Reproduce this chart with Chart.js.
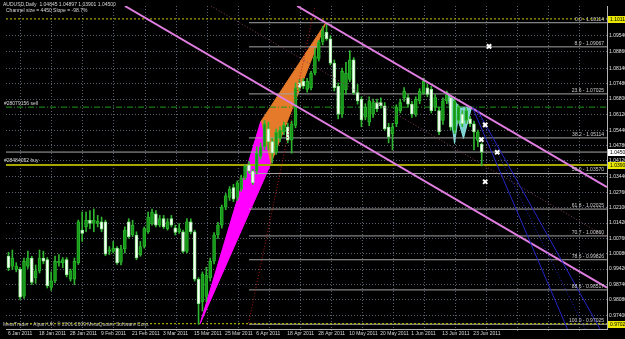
<!DOCTYPE html>
<html>
<head>
<meta charset="utf-8">
<script src="https://cdn.jsdelivr.net/npm/chart.js@4.4.1/dist/chart.umd.min.js"></script>
<style>
  html, body { margin: 0; padding: 0; background: #000; }
</style>
</head>
<body>
<canvas id="chart" width="625" height="339"></canvas>
<script>
// AUDUSD daily candles, bar 0 = 6 Jan 2011
const opens = [
  0.9998,0.9955,0.9941,0.9941,0.9825,0.9955,0.9990,0.9905,0.9934,0.9990,
  0.9983,0.9863,0.9891,0.9969,0.9969,0.9983,0.9898,0.9898,0.9969,1.0111,
  1.0125,1.0154,1.0140,1.0140,1.0147,1.0147,1.0019,1.0019,1.0033,0.9972,
  1.0030,1.0147,1.0090,1.0090,1.0005,1.0040,1.0104,1.0140,1.0182,1.0133,
  1.0161,1.0118,1.0161,1.0121,1.0104,1.0104,1.0019,1.0147,1.0104,0.9898,
  0.9800,0.9823,0.9905,0.9976,1.0090,1.0133,1.0211,1.0253,1.0296,1.0253,
  1.0289,1.0338,1.0395,1.0367,1.0367,1.0431,1.0473,1.0551,1.0495,1.0450,
  1.0509,1.0537,1.0559,1.0502,1.0566,1.0750,1.0757,1.0722,1.0729,1.0793,
  1.0857,1.0928,1.0970,1.0942,1.0836,1.0736,1.0615,1.0720,1.0765,1.0850,
  1.0708,1.0680,1.0601,1.0580,1.0615,1.0665,1.0665,1.0651,1.0558,1.0530,
  1.0573,1.0630,1.0686,1.0686,1.0658,1.0615,1.0672,1.0708,1.0729,1.0722,
  1.0644,1.0630,1.0587,1.0672,1.0686,1.0544,1.0587,1.0615,1.0587,1.0594,
  1.0573,1.0501,1.04845
];
const highs = [
  1.0015,1.0025,0.9970,0.9950,0.9990,1.0020,0.9998,0.9960,1.0025,1.0020,
  0.9992,0.9930,0.9998,1.0005,0.9992,0.9992,0.9942,0.9990,1.0155,1.0190,
  1.0190,1.0196,1.0203,1.0175,1.0168,1.0155,1.0040,1.0062,1.0040,1.0045,
  1.0125,1.0161,1.0154,1.0104,1.0062,1.0125,1.0189,1.0203,1.0196,1.0175,
  1.0175,1.0161,1.0175,1.0133,1.0140,1.0111,1.0161,1.0160,1.0111,0.9905,
  0.9930,0.9950,0.9990,1.0100,1.0145,1.0220,1.0270,1.0300,1.0310,1.0325,
  1.0350,1.0395,1.0410,1.0375,1.0473,1.0490,1.0587,1.0580,1.0510,1.0550,
  1.0560,1.0580,1.0575,1.0585,1.0750,1.0765,1.0770,1.0770,1.0800,1.0899,
  1.0935,1.0995,1.10114,1.0956,1.0850,1.0750,1.0815,1.0840,1.0890,1.0860,
  1.0743,1.0690,1.0660,1.0690,1.0680,1.0680,1.0685,1.0665,1.0575,1.0575,
  1.0655,1.0680,1.0730,1.0700,1.0670,1.0690,1.0725,1.0771,1.0745,1.0735,
  1.0700,1.0645,1.0685,1.0715,1.0695,1.0685,1.0655,1.0630,1.0640,1.0605,
  1.0585,1.0545,1.04897
];
const lows = [
  0.9935,0.9940,0.9930,0.9810,0.9815,0.9945,0.9875,0.9880,0.9925,0.9965,
  0.9860,0.9850,0.9882,0.9955,0.9948,0.9908,0.9890,0.9875,0.9962,1.0062,
  1.0104,1.0118,1.0104,1.0125,1.0104,1.0000,1.0005,1.0012,0.9962,0.9960,
  1.0012,1.0076,1.0083,0.9983,0.9998,1.0033,1.0097,1.0133,1.0125,1.0125,
  1.0118,1.0111,1.0125,1.0090,1.0097,1.0012,1.0012,1.0095,0.9890,0.97025,
  0.9760,0.9800,0.9890,0.9965,1.0075,1.0120,1.0200,1.0240,1.0235,1.0240,
  1.0280,1.0330,1.0360,1.0310,1.0355,1.0420,1.0460,1.0459,1.0402,1.0440,
  1.0495,1.0525,1.0490,1.0445,1.0555,1.0715,1.0725,1.0710,1.0720,1.0785,
  1.0845,1.0915,1.0935,1.0828,1.0715,1.0594,1.0600,1.0700,1.0755,1.0700,
  1.0658,1.0560,1.0590,1.0565,1.0600,1.0625,1.0640,1.0544,1.0490,1.0459,
  1.0560,1.0620,1.0670,1.0645,1.0600,1.0605,1.0660,1.0700,1.0690,1.0620,
  1.0630,1.0525,1.0570,1.0660,1.0545,1.0530,1.0575,1.0560,1.0575,1.0560,
  1.0459,1.0473,1.03901
];
const closes = [
  0.9948,0.9990,0.9955,0.9820,0.9976,0.9990,0.9884,0.9934,0.9990,0.9976,
  0.9870,0.9891,0.9976,0.9976,0.9983,0.9917,0.9934,0.9976,1.0147,1.0097,
  1.0154,1.0140,1.0154,1.0150,1.0115,1.0007,1.0026,1.0033,0.9969,1.0030,
  1.0111,1.0083,1.0133,0.9990,1.0040,1.0118,1.0168,1.0189,1.0133,1.0161,
  1.0125,1.0147,1.0133,1.0101,1.0118,1.0019,1.0147,1.0104,0.9898,0.9792,
  0.9919,0.9915,0.9976,1.0090,1.0133,1.0211,1.0260,1.0289,1.0246,1.0317,
  1.0338,1.0388,1.0367,1.0317,1.0445,1.0473,1.0573,1.0495,1.0445,1.0537,
  1.0544,1.0566,1.0502,1.0573,1.0729,1.0729,1.0736,1.0757,1.0793,1.0864,
  1.0928,1.0977,1.0942,1.0836,1.0729,1.0615,1.0800,1.0793,1.0850,1.0708,
  1.0672,1.0590,1.0644,1.0672,1.0665,1.0637,1.0651,1.0551,1.0516,1.0558,
  1.0644,1.0665,1.0715,1.0658,1.0615,1.0679,1.0715,1.0757,1.0700,1.0630,
  1.0686,1.0537,1.0672,1.0700,1.0558,1.0672,1.0644,1.0573,1.0630,1.0573,
  1.0537,1.0537,1.04500
];

// time axis: a label every 8 bars, grid lines sit a little right of each label
const dateLabels = ["6 Jan 2011","18 Jan 2011","28 Jan 2011","9 Feb 2011","21 Feb 2011","3 Mar 2011",
  "15 Mar 2011","25 Mar 2011","6 Apr 2011","18 Apr 2011","28 Apr 2011","10 May 2011","20 May 2011",
  "1 Jun 2011","13 Jun 2011","23 Jun 2011"];
const gridBars = [3.2,11.2,19.2,27.2,35.2,43.2,51.2,59.2,67.2,75.2,83.2,91.2,99.2,107.2,115.2,123.2,131.2,139.2,147.2];
const priceTicks = [1.09540,1.08860,1.08140,1.07480,1.06800,1.06120,1.05440,1.04780,1.04120,1.03440,
  1.02760,1.02100,1.01420,1.00760,1.00080,0.99420,0.98740,0.98080,0.97400];
const xMin = -0.64, xMax = 154.3;
const yMin = 0.9682, yMax = 1.1084;

// fibonacci retracement
const fibLevels = ["0.0","8.0","23.6","38.2","50.0","61.8","70.7","78.6","88.6","100.0"];
const fibPrices = [1.10114,1.09067,1.07025,1.05114,1.03570,1.02025,1.00860,0.99826,0.98517,0.97025];
const fibStartBar = 62;

// trade / price lines
const sellPrice = 1.0645, bidPrice = 1.0450, buyPrice = 1.0394;
const alertHigh = 1.1028, alertLow = 0.9705;

// channel (bar, price) pairs
const chanUpperX = [74.4, 154.3], chanUpperY = [1.1084, 1.0298];
const chanLowerX = [30.0, 154.3], chanLowerY = [1.1084, 0.9861];
const chanMidX = [52.2, 154.3], chanMidY = [1.1084, 1.0080];
const redDotX = [61.9, 79.0], redDotY = [0.9708, 1.1084];
const blue1X = [119.6, 144.1], blue1Y = [1.0645, 0.9682];
const blue2X = [120.9, 152.5], blue2Y = [1.0632, 0.9682];
const blue3X = [120.4, 148.7], blue3Y = [1.0641, 0.9682];

// triangles
const magentaX = [49.4, 65.0, 67.5], magentaY = [0.9705, 1.0581, 1.0394];
const orangeX = [65.0, 81.8, 67.5], orangeY = [1.0581, 1.10114, 1.0394];
const cyanAX = [113.2, 116.3, 115.0], cyanAY = [1.0709, 1.0645, 1.0487];
const cyanBX = [115.0, 119.4, 117.3], cyanBY = [1.0645, 1.0645, 1.0509];

// projection markers
const markX = [123.9, 122.9, 121.9, 126.0, 122.9];
const markY = [1.0909, 1.0568, 1.0504, 1.0449, 1.0321];

const bars = opens.map(function(o, i) { return i; });
const isBull = bars.map(function(i) { return closes[i] >= opens[i]; });

function pts(xs, ys) {
  return xs.map(function(x, i) { return {x: x, y: ys[i]}; });
}
function closed(xs, ys) {
  const p = pts(xs, ys);
  p.push(p[0]);
  return p;
}
function lineSet(data, color, width, dash, order) {
  return {type: 'line', data: data, borderColor: color, borderWidth: width, borderDash: dash || [],
    pointRadius: 0, fill: false, tension: 0, order: order};
}
function shapeSet(data, color) {
  return {type: 'line', data: data, borderColor: color, backgroundColor: color, borderWidth: 1,
    pointRadius: 0, fill: 'shape', tension: 0, order: 20};
}

const fibSets = fibPrices.map(function(p) {
  return lineSet(pts([fibStartBar, xMax], [p, p]), '#a4a4a4', 1, [], 16);
});

const datasets = [
  shapeSet(closed(magentaX, magentaY), '#ff00ff'),
  shapeSet(closed(orangeX, orangeY), '#e47a2a'),
  shapeSet(closed(cyanAX, cyanAY), 'rgba(140,232,232,0.9)'),
  shapeSet(closed(cyanBX, cyanBY), 'rgba(140,232,232,0.9)'),
  lineSet(pts([xMin, xMax], [sellPrice, sellPrice]), '#1f9a1f', 1, [6, 2, 1, 2], 15),
  lineSet(pts([xMin, xMax], [bidPrice, bidPrice]), '#a8a8a8', 1, [], 15),
  lineSet(pts([xMin, xMax], [buyPrice, buyPrice]), '#a6a600', 2, [], 15),
  lineSet(pts([xMin, xMax], [alertHigh, alertHigh]), '#c8c800', 1, [2, 2], 15),
  lineSet(pts([xMin, xMax], [alertLow, alertLow]), '#c8c800', 1, [2, 2], 15),
  {type: 'bar', data: bars.map(function(i) { return {x: i, y: [lows[i], highs[i]]}; }),
    backgroundColor: '#2fb52f', barThickness: 1, grouped: false, order: 8},
  {type: 'bar', data: bars.map(function(i) { return {x: i, y: [opens[i], closes[i]]}; }),
    backgroundColor: bars.map(function(i) { return isBull[i] ? '#16961a' : '#ffffff'; }),
    borderColor: bars.map(function(i) { return isBull[i] ? '#28b428' : '#8fe88f'; }),
    borderWidth: 1, borderSkipped: false, barThickness: 3, minBarLength: 1, grouped: false, order: 7},
  lineSet(pts(chanUpperX, chanUpperY), '#e17ee1', 2, [], 4),
  lineSet(pts(chanLowerX, chanLowerY), '#e17ee1', 2, [], 4),
  lineSet(pts(chanMidX, chanMidY), '#7a3d5c', 1, [1, 2], 5),
  lineSet(pts(redDotX, redDotY), '#b01818', 1, [1, 2], 5),
  lineSet(pts(blue1X, blue1Y), '#2424c8', 1, [], 3),
  lineSet(pts(blue2X, blue2Y), '#2424c8', 1, [], 3),
  lineSet(pts(blue3X, blue3Y), '#2424c8', 1, [1, 2], 3),
  {type: 'line', data: pts(markX, markY), showLine: false, pointStyle: 'crossRot', pointRadius: 3,
    pointBorderColor: '#ffffff', pointBorderWidth: 2, borderColor: '#ffffff', order: 0}
].concat(fibSets);

const tinyFont = '"Liberation Sans Narrow", "Liberation Sans", sans-serif';

const mtText = {
  id: 'mtText',
  afterDraw(chart) {
    const ctx = chart.ctx;
    const y = chart.scales.y;
    const area = chart.chartArea;
    ctx.save();
    ctx.font = '5px ' + tinyFont;
    ctx.textBaseline = 'alphabetic';

    ctx.textAlign = 'right';
    ctx.fillStyle = '#cfcfcf';
    fibLevels.forEach(function(lv, i) {
      ctx.fillText(lv + ' - ' + fibPrices[i].toFixed(5), area.right - 3, y.getPixelForValue(fibPrices[i]) - 2);
    });

    ctx.textAlign = 'left';
    ctx.fillStyle = '#d8d8d8';
    ctx.fillText('AUDUSD,Daily  1.04845 1.04897 1.03901 1.04500', 3, 6);
    ctx.fillText('Channel size = 4450 Slope = -98.7%', 6, 12);
    ctx.fillText('#28079156 sell', 4, y.getPixelForValue(sellPrice) - 2);
    ctx.fillText('#28484052 buy', 4, y.getPixelForValue(buyPrice) - 3);
    ctx.fillStyle = '#bdbdbd';
    ctx.fillText('MetaTrader - Alpari UK, \u00a9 2001-2009 MetaQuotes Software Corp.', 3, area.bottom - 3);

    // price boxes on the right scale
    const boxes = [[alertHigh, '#e8e800'], [bidPrice, '#ffffff'], [buyPrice, '#e8e800'], [alertLow, '#e8e800']];
    const labels = ['1.10114', '1.04500', '1.03900', '0.97025'];
    boxes.forEach(function(b, i) {
      const py = Math.round(y.getPixelForValue(b[0]));
      ctx.fillStyle = b[1];
      ctx.fillRect(area.right + 1, py - 3, 625 - area.right, 7);
      ctx.fillStyle = '#000000';
      ctx.fillText(labels[i], area.right + 3, py + 2);
    });
    ctx.restore();
  }
};

new Chart(document.getElementById('chart'), {
  type: 'bar',
  data: {datasets: datasets},
  options: {
    responsive: false,
    animation: false,
    devicePixelRatio: 1,
    layout: {padding: 0},
    plugins: {legend: {display: false}, tooltip: {enabled: false}},
    scales: {
      x: {
        type: 'linear', min: xMin, max: xMax, offset: false,
        afterBuildTicks: function(s) { s.ticks = gridBars.map(function(v) { return {value: v}; }); },
        afterFit: function(s) { s.height = 10; },
        ticks: {autoSkip: false, maxRotation: 0, align: 'start', labelOffset: -13, padding: 0,
          color: '#d8d8d8', font: {family: tinyFont, size: 5},
          callback: function(v, i) { return dateLabels[i] || ''; }},
        grid: {color: '#58616d', tickLength: 2, offset: false},
        border: {color: '#b4b4b4', dash: [1, 2]}
      },
      y: {
        type: 'linear', position: 'right', min: yMin, max: yMax, beginAtZero: false,
        afterBuildTicks: function(s) { s.ticks = priceTicks.map(function(v) { return {value: v}; }); },
        afterFit: function(s) { s.width = 18; },
        ticks: {padding: 1, color: '#e0e0e0', font: {family: tinyFont, size: 5},
          callback: function(v) { return v.toFixed(5); }},
        grid: {color: '#58616d', tickLength: 1},
        border: {color: '#b4b4b4', dash: [1, 2]}
      }
    }
  },
  plugins: [mtText]
});
</script>
</body>
</html>
